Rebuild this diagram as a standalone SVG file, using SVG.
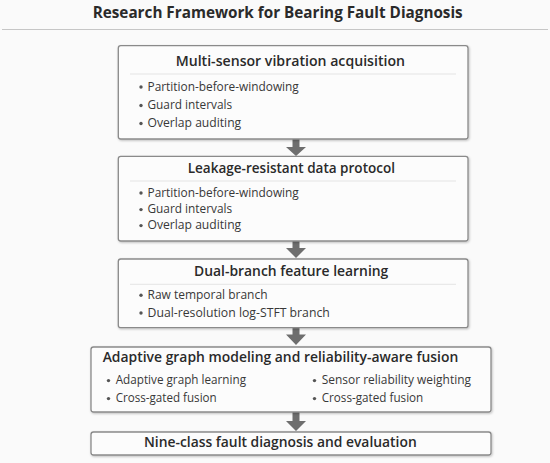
<svg xmlns="http://www.w3.org/2000/svg" width="550" height="463" viewBox="0 0 550 463">
<defs>
<filter id="sh" x="-5%" y="-5%" width="110%" height="120%">
<feDropShadow dx="0.8" dy="1" stdDeviation="0.8" flood-color="#000" flood-opacity="0.25"/>
</filter>
<style>
.bg{fill:#fafafa}
.box{fill:#fcfcfc;stroke:#8a8a8a;stroke-width:1.3}
.sep{stroke:#e4e4e4;stroke-width:1}
.ttl{font-family:"Open Sans",Lato,"DejaVu Sans",sans-serif;font-weight:bold;font-size:16px;fill:#2a2a2a}
.hd{font-family:"Open Sans",Lato,"DejaVu Sans",sans-serif;font-weight:600;font-size:13.8px;fill:#2a2a2a}
.bt{font-family:"Open Sans",Lato,"DejaVu Sans",sans-serif;font-size:12px;fill:#383838}
.dot{fill:#555}
.arr{fill:#6e6e6e}
</style>
</defs>
<rect class="bg" x="0" y="0" width="550" height="463"/>
<text class="ttl" x="92.7" y="18" textLength="370" lengthAdjust="spacingAndGlyphs">Research Framework for Bearing Fault Diagnosis</text>
<line x1="2" y1="29.5" x2="548" y2="29.5" stroke="#c6c6c6" stroke-width="1.2"/>

<g id="connectors">
<polygon class="arr" points="292.5,139 299.5,139 299.5,147 306,147 296,156 286,147 292.5,147"/>
<polygon class="arr" points="292.5,241 299.5,241 299.5,248 306,248 296,258 286,248 292.5,248"/>
<polygon class="arr" points="292.5,328 299.5,328 299.5,334.5 306,334.5 296,345 286,334.5 292.5,334.5"/>
<polygon class="arr" points="292.5,412 299.5,412 299.5,421 306,421 296,431 286,421 292.5,421"/>
</g>

<g id="n1">
<rect class="box" filter="url(#sh)" x="118.3" y="45.7" width="349.7" height="93.3" rx="2.5"/>
<text class="hd" x="175.7" y="65.5" textLength="229.3" lengthAdjust="spacingAndGlyphs">Multi-sensor vibration acquisition</text>
<line class="sep" x1="130" y1="74" x2="456" y2="74"/>
<circle class="dot" cx="141" cy="87" r="1.7"/>
<text class="bt" x="147.5" y="90.8" textLength="151.3" lengthAdjust="spacingAndGlyphs">Partition-before-windowing</text>
<circle class="dot" cx="141" cy="105.5" r="1.7"/>
<text class="bt" x="147.5" y="109.3" textLength="84.7" lengthAdjust="spacingAndGlyphs">Guard intervals</text>
<circle class="dot" cx="141" cy="123.5" r="1.7"/>
<text class="bt" x="147.5" y="127.3" textLength="93.7" lengthAdjust="spacingAndGlyphs">Overlap auditing</text>
</g>

<g id="n2">
<rect class="box" filter="url(#sh)" x="118.3" y="156.3" width="349.7" height="84.7" rx="2.5"/>
<text class="hd" x="187.7" y="173.3" textLength="207.3" lengthAdjust="spacingAndGlyphs">Leakage-resistant data protocol</text>
<line class="sep" x1="130" y1="181" x2="456" y2="181"/>
<circle class="dot" cx="141" cy="193" r="1.7"/>
<text class="bt" x="147.5" y="196.7" textLength="151.3" lengthAdjust="spacingAndGlyphs">Partition-before-windowing</text>
<circle class="dot" cx="141" cy="209.6" r="1.7"/>
<text class="bt" x="147.5" y="213.3" textLength="84.7" lengthAdjust="spacingAndGlyphs">Guard intervals</text>
<circle class="dot" cx="141" cy="225.6" r="1.7"/>
<text class="bt" x="147.5" y="229.3" textLength="93.7" lengthAdjust="spacingAndGlyphs">Overlap auditing</text>
</g>

<g id="n3">
<rect class="box" filter="url(#sh)" x="118.3" y="259" width="349.7" height="68.7" rx="2.5"/>
<text class="hd" x="194" y="276" textLength="194.3" lengthAdjust="spacingAndGlyphs">Dual-branch feature learning</text>
<line class="sep" x1="130" y1="284.3" x2="456" y2="284.3"/>
<circle class="dot" cx="141" cy="295.3" r="1.7"/>
<text class="bt" x="147.5" y="299" textLength="120" lengthAdjust="spacingAndGlyphs">Raw temporal branch</text>
<circle class="dot" cx="141" cy="313" r="1.7"/>
<text class="bt" x="147.5" y="316.7" textLength="182.3" lengthAdjust="spacingAndGlyphs">Dual-resolution log-STFT branch</text>
</g>

<g id="n4">
<rect class="box" filter="url(#sh)" x="91" y="347" width="400" height="65" rx="2.5"/>
<text class="hd" x="102.7" y="362" textLength="355.6" lengthAdjust="spacingAndGlyphs">Adaptive graph modeling and reliability-aware fusion</text>
<circle class="dot" cx="108.5" cy="380.6" r="1.7"/>
<text class="bt" x="115.7" y="384.3" textLength="130.3" lengthAdjust="spacingAndGlyphs">Adaptive graph learning</text>
<circle class="dot" cx="108.5" cy="398.6" r="1.7"/>
<text class="bt" x="115.7" y="402.3" textLength="101" lengthAdjust="spacingAndGlyphs">Cross-gated fusion</text>
<circle class="dot" cx="314.5" cy="380.6" r="1.7"/>
<text class="bt" x="321.7" y="384.3" textLength="149.3" lengthAdjust="spacingAndGlyphs">Sensor reliability weighting</text>
<circle class="dot" cx="314.5" cy="398.6" r="1.7"/>
<text class="bt" x="321.7" y="402.3" textLength="101.6" lengthAdjust="spacingAndGlyphs">Cross-gated fusion</text>
</g>

<g id="n5">
<rect class="box" filter="url(#sh)" x="91" y="432" width="400" height="23" rx="2.5"/>
<text class="hd" x="144" y="446.7" textLength="272.7" lengthAdjust="spacingAndGlyphs">Nine-class fault diagnosis and evaluation</text>
</g>
</svg>
